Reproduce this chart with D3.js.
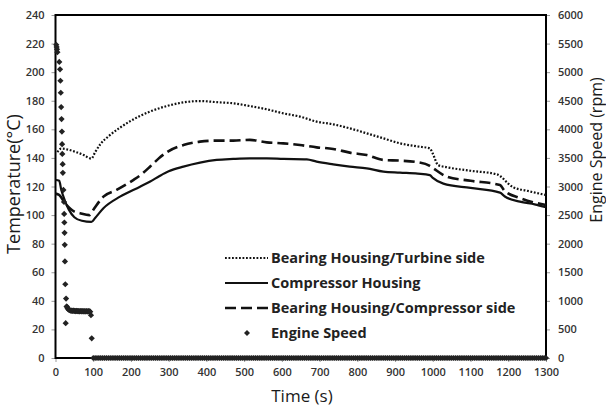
<!DOCTYPE html>
<html><head><meta charset="utf-8">
<script src="https://cdn.jsdelivr.net/npm/d3@7/dist/d3.min.js"></script>
<style>
html,body{margin:0;padding:0;background:#fff;}
svg{display:block;}
</style></head>
<body>
<svg id="chart" width="606" height="407"></svg>
<script>
// ---------------- DATA ----------------
const timeTicks = [0,100,200,300,400,500,600,700,800,900,1000,1100,1200,1300];
const tempTicks = [0,20,40,60,80,100,120,140,160,180,200,220,240];
const speedTicks = [0,500,1000,1500,2000,2500,3000,3500,4000,4500,5000,5500,6000];

const seriesNames = ["Bearing Housing/Turbine side","Compressor Housing","Bearing Housing/Compressor side","Engine Speed"];

// Bearing Housing / Turbine side (dotted)  [time s, temp C]
const turbineTime = [5,15,30,50,75,95,105,120,140,170,200,250,295,340,383,427,471,515,560,604,648,692,736,780,825,869,913,960,992,1000,1014,1037,1100,1170,1180,1200,1213,1250,1300];
const turbineTemp = [144,146.5,146,144.5,142,139.5,144,150,155,161,166,172.4,176.3,178.9,179.8,179,178.2,176.3,174,171.2,168.9,165.4,163.5,160.7,157.2,153.7,150.2,148,146.7,143,135,133.5,131,128.5,127,122,119.5,117,114];

// Compressor Housing (solid)
const compTime = [0,10,15,25,35,50,70,95,105,127,171,224,251,277,300,339,383,427,471,515,560,604,666,692,736,780,825,869,913,960,992,1000,1028,1100,1178,1191,1231,1270,1300];
const compTemp = [124.6,124,118,110,104,98.5,96,95.2,98,104.8,112.9,119.9,123.5,127.5,130.6,133.9,136.7,138.6,139.3,139.7,139.7,139.3,139,137.4,135.5,133.9,132.7,130.4,129.7,129,128,126,122,119,115.7,113,109.4,107.5,105.5];

// Bearing Housing / Compressor side (dashed)
const bcTime = [0,10,25,50,65,90,100,127,162,206,230,251,273,295,339,383,427,471,515,560,604,648,692,736,780,825,869,913,960,992,1000,1037,1100,1178,1190,1230,1300];
const bcTemp = [115,114,108.5,102.4,101.3,100,103.6,112.9,117.6,124.5,129,134,139.5,144,149,151.4,152.1,152.1,152.6,150.9,150.2,149,147.4,146.3,143.7,142,138.6,138.1,137,134.4,133,126.9,124,121,117,112,107];

// Engine speed (diamonds) [time s, rpm]
const speedTime = [2,3,4,5,10,12,13,14,15,16,17,17.5,18,19,19.5,21,22.5,23,23.5,24,24.5,25,26,27,28,29.5,
  30,32,34,36,38,40,42,44,46,48,50,52,54,56,58,60,62,64,66,68,70,72,74,76,78,80,82,84,86,88,90,92,94,96];
const speedRpm = [5480,5440,5400,5350,5180,5050,4850,4640,4390,4180,3960,3740,3570,3390,3240,2940,2730,2520,2370,2190,1980,1690,1290,610,1040,900,
  900,870,850,840,835,830,830,825,825,830,825,820,820,825,820,820,820,815,820,820,815,820,815,820,815,815,820,815,815,820,815,810,750,345];
const speedZeroTime = [
  100,105,110,115,120,125,130,135,140,145,150,155,160,165,170,175,180,185,190,195,
  200,205,210,215,220,225,230,235,240,245,250,255,260,265,270,275,280,285,290,295,
  300,305,310,315,320,325,330,335,340,345,350,355,360,365,370,375,380,385,390,395,
  400,405,410,415,420,425,430,435,440,445,450,455,460,465,470,475,480,485,490,495,
  500,505,510,515,520,525,530,535,540,545,550,555,560,565,570,575,580,585,590,595,
  600,605,610,615,620,625,630,635,640,645,650,655,660,665,670,675,680,685,690,695,
  700,705,710,715,720,725,730,735,740,745,750,755,760,765,770,775,780,785,790,795,
  800,805,810,815,820,825,830,835,840,845,850,855,860,865,870,875,880,885,890,895,
  900,905,910,915,920,925,930,935,940,945,950,955,960,965,970,975,980,985,990,995,
  1000,1005,1010,1015,1020,1025,1030,1035,1040,1045,1050,1055,1060,1065,1070,1075,1080,1085,1090,1095,
  1100,1105,1110,1115,1120,1125,1130,1135,1140,1145,1150,1155,1160,1165,1170,1175,1180,1185,1190,1195,
  1200,1205,1210,1215,1220,1225,1230,1235,1240,1245,1250,1255,1260,1265,1270,1275,1280,1285,1290,1295,1300];
const speedZeroRpm = speedZeroTime.map(() => 0);

// ---------------- CHART ----------------
const svg = d3.select("#chart");
const L = 55.5, R = 546, T = 15, B = 358;
const x = d3.scaleLinear().domain([0,1300]).range([L,R]);
const yT = d3.scaleLinear().domain([0,240]).range([B,T]);
const yS = d3.scaleLinear().domain([0,6000]).range([B,T]);

const FONT = "'Open Sans', Lato, sans-serif";
const tickColor = "#333";
const fmt = d3.format("d");

function styleAxis(g){
  g.selectAll(".domain").remove();
  g.selectAll(".tick line").attr("stroke","#9a9a9a").attr("stroke-width",1);
  g.selectAll(".tick text").attr("font-family",FONT).attr("font-weight",600)
    .attr("font-size","11px").attr("fill",tickColor);
}

svg.append("g").attr("transform",`translate(${L},0)`)
  .call(d3.axisLeft(yT).tickValues(tempTicks).tickFormat(fmt).tickSize(4).tickPadding(7).tickSizeOuter(0))
  .call(styleAxis);
svg.append("g").attr("transform",`translate(${R},0)`)
  .call(d3.axisRight(yS).tickValues(speedTicks).tickFormat(fmt).tickSize(4).tickPadding(8).tickSizeOuter(0))
  .call(styleAxis);
svg.append("g").attr("transform",`translate(0,${B})`)
  .call(d3.axisBottom(x).tickValues(timeTicks).tickFormat(fmt).tickSize(4).tickPadding(6).tickSizeOuter(0))
  .call(styleAxis);

// frame
svg.append("rect").attr("x",L).attr("y",T).attr("width",R-L).attr("height",B-T)
  .attr("fill","none").attr("stroke","#000").attr("stroke-width",2);

// axis titles
svg.append("text").attr("transform",`translate(20,184) rotate(-90)`)
  .attr("text-anchor","middle").attr("font-family",FONT).attr("font-size","18px")
  .attr("fill","#1a1a1a").text("Temperature(°C)");
svg.append("text").attr("transform",`translate(602,150) rotate(-90)`)
  .attr("text-anchor","middle").attr("font-family",FONT).attr("font-size","16px")
  .attr("fill","#1a1a1a").text("Engine Speed (rpm)");
svg.append("text").attr("x",302).attr("y",402)
  .attr("text-anchor","middle").attr("font-family",FONT).attr("font-size","17px")
  .attr("fill","#1a1a1a").text("Time (s)");

// lines
const lineGen = (ts, vs) => d3.line().x((d,i)=>x(ts[i])).y((d,i)=>yT(vs[i])).curve(d3.curveMonotoneX)(ts);
const styles = [
  {dash:"1.8,1.7", w:2.2},
  {dash:null, w:2.2},
  {dash:"11,5", w:2.6}
];
const lines = [[turbineTime,turbineTemp],[compTime,compTemp],[bcTime,bcTemp]];
lines.forEach((s,i)=>{
  svg.append("path").attr("d",lineGen(s[0],s[1])).attr("fill","none")
    .attr("stroke","#111").attr("stroke-width",styles[i].w)
    .attr("stroke-dasharray",styles[i].dash);
});

// engine speed diamonds
const diamond = r => `M0,${-r}L${r},0L0,${r}L${-r},0Z`;
const speedPts = speedTime.map((t,i)=>[t,speedRpm[i]]).concat(speedZeroTime.map((t,i)=>[t,speedZeroRpm[i]]));
svg.append("g").selectAll("path").data(speedPts).join("path")
  .attr("transform",d=>`translate(${x(d[0])},${yS(d[1])})`)
  .attr("d",diamond(3.1)).attr("fill","#222");

// legend
const lg = svg.append("g");
const rowY = [258,283,308,333];
seriesNames.forEach((name,i)=>{
  const yy = rowY[i];
  if(i<3){
    lg.append("line").attr("x1",225).attr("x2",268).attr("y1",yy).attr("y2",yy)
      .attr("stroke","#111").attr("stroke-width",styles[i].w).attr("stroke-dasharray",styles[i].dash);
  } else {
    lg.append("path").attr("transform",`translate(247,${yy})`).attr("d",diamond(3)).attr("fill","#222");
  }
  lg.append("text").attr("x",271).attr("y",yy+5).attr("font-family",FONT).attr("font-weight",700)
    .attr("font-size","14.5px").attr("fill","#222").text(name);
});
</script>
</body></html>
